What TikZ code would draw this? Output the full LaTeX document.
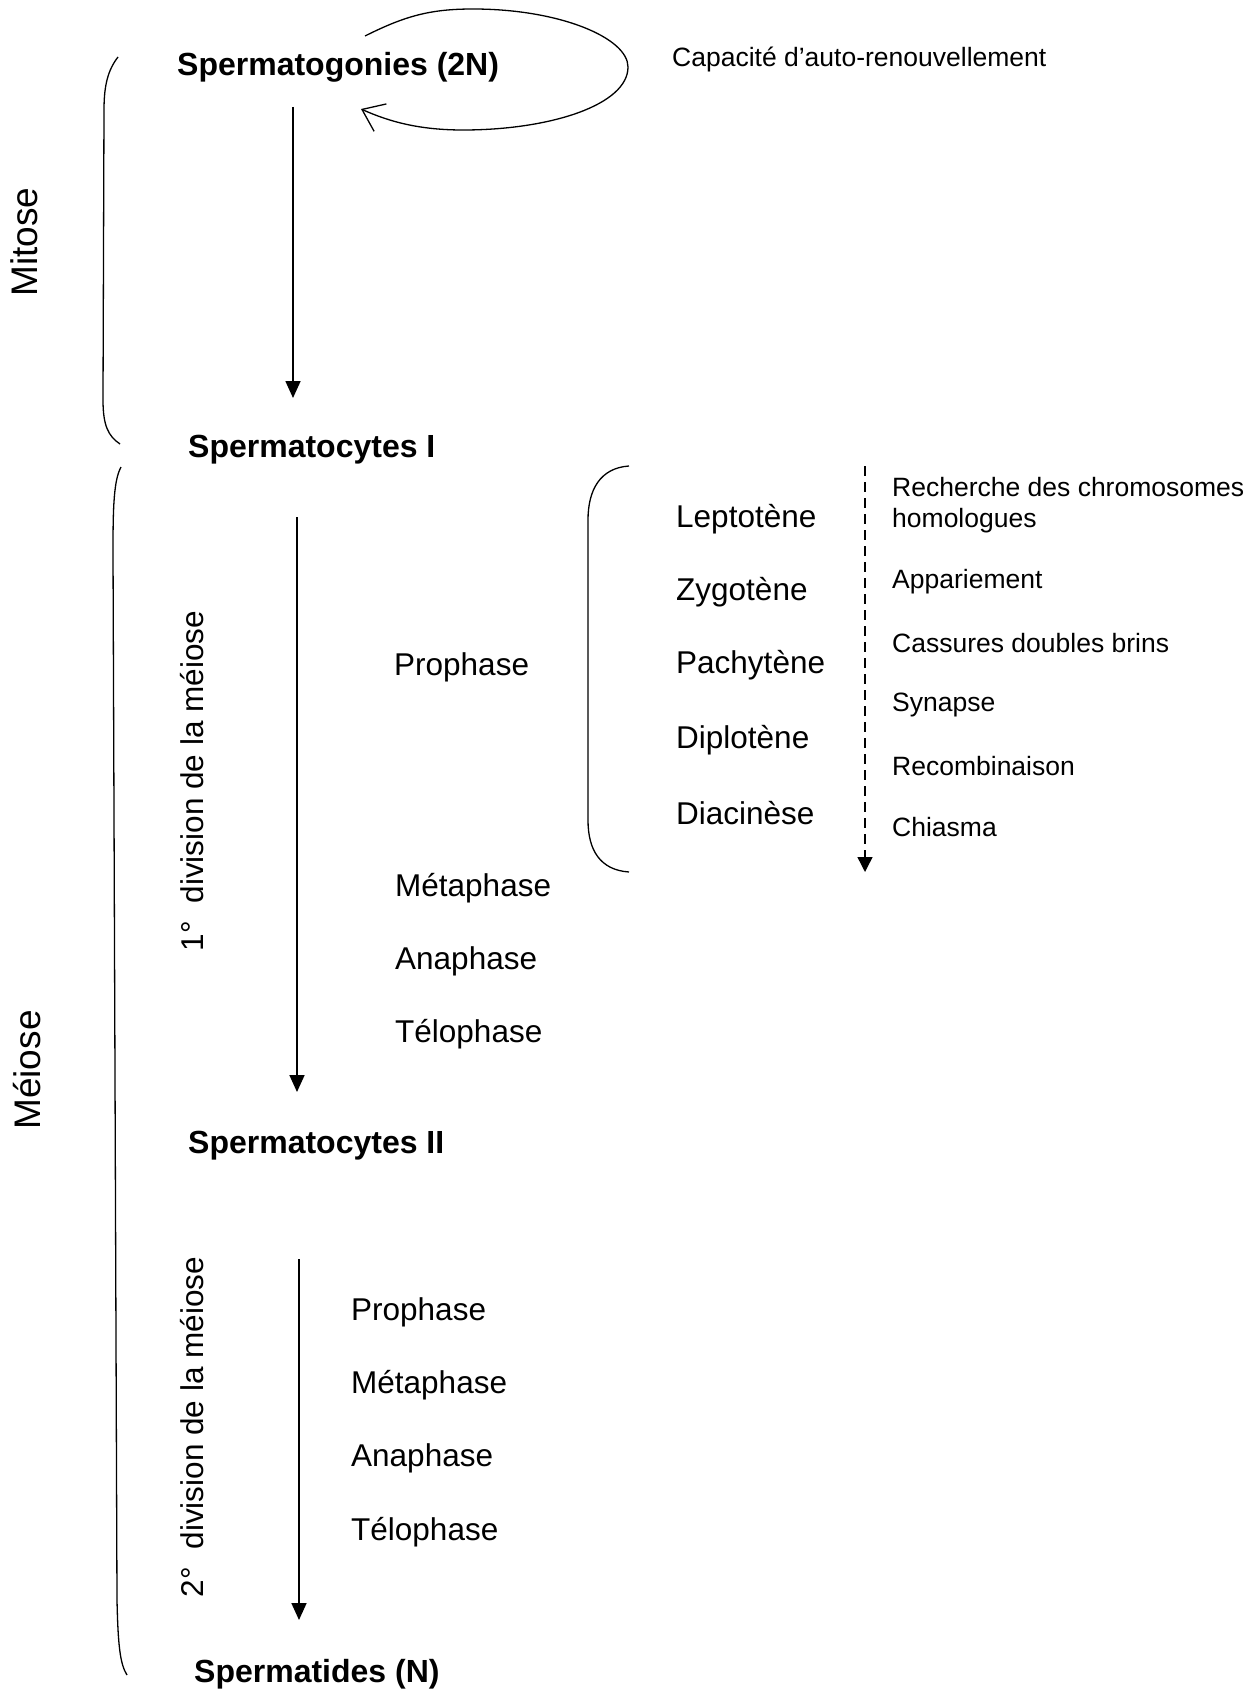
\documentclass[tikz,border=0pt]{standalone}
\usepackage{fontspec}
\setmainfont{Liberation Sans}
\usetikzlibrary{arrows.meta}
\begin{document}
\begin{tikzpicture}[x=1pt,y=-1pt,
  every node/.append style={yshift=-2pt},
  bold/.style={anchor=west,inner sep=0pt,font=\fontsize{32}{38}\selectfont\bfseries},
  stage/.style={anchor=west,inner sep=0pt,font=\fontsize{31.5}{38}\selectfont},
  small/.style={anchor=west,inner sep=0pt,font=\fontsize{26.5}{31}\selectfont,align=left},
  side/.style={inner sep=0pt,rotate=90,font=\fontsize{37}{42}\selectfont},
  divlab/.style={inner sep=0pt,rotate=90,font=\fontsize{31.5}{38}\selectfont},
  arr/.style={line width=1.7pt,-{Triangle[length=17pt,width=15pt]}},
  darr/.style={line width=1.4pt,dash pattern=on 10pt off 6pt,-{Triangle[length=15pt,width=15pt]}},
  brk/.style={line width=1.3pt}]
\useasboundingbox[fill=white] (0,0) rectangle (1260,1691);

% main labels
\node[bold] (sg) at (177,65) {Spermatogonies (2N)};
\node[small] (cap) at (672,57) {Capacité d’auto-renouvellement};
\node[bold] (sc1) at (188,448) {Spermatocytes I};
\node[bold] (sc2) at (188,1144) {Spermatocytes II};
\node[bold] (sd) at (194,1672) {Spermatides (N)};

\node[side] (mitose) at (24,240) {Mitose};
\node[side] (meiose) at (27,1068) {Méiose};
\node[divlab] (div1) at (192,779) {1°\ \ division de la méiose};
\node[divlab] (div2) at (192,1425) {2°\ \ division de la méiose};

% first division
\node[stage] (pro1) at (394,665) {Prophase};
\node[stage] (met1) at (395,886) {Métaphase};
\node[stage] (ana1) at (395,959) {Anaphase};
\node[stage] (tel1) at (395,1032) {Télophase};

\node[stage] (lep) at (676,517) {Leptotène};
\node[stage] (zyg) at (676,590) {Zygotène};
\node[stage] (pac) at (676,663) {Pachytène};
\node[stage] (dip) at (676,738) {Diplotène};
\node[stage] (dia) at (676,811) {Diacinèse};

\node[small] (rech) at (892,503) {Recherche des chromosomes\\homologues};
\node[small] (app) at (892,580) {Appariement};
\node[small] (cas) at (892,641) {Cassures doubles brins};
\node[small] (syn) at (892,703) {Synapse};
\node[small] (rec) at (892,764) {Recombinaison};
\node[small] (chi) at (892,825) {Chiasma};

% second division
\node[stage] (pro2) at (351,1310) {Prophase};
\node[stage] (met2) at (351,1383) {Métaphase};
\node[stage] (ana2) at (351,1456) {Anaphase};
\node[stage] (tel2) at (351,1530) {Télophase};

% arrow end points
\coordinate (a1s) at (293,105);
\coordinate (a1e) at (293,396);
\coordinate (a2s) at (297,515);
\coordinate (a2e) at (297,1090);
\coordinate (a3s) at (299,1257);
\coordinate (a3e) at (299,1618);
\coordinate (dps) at (865,464);
\coordinate (dpe) at (865,870);

\draw[arr] (a1s) -- (a1e);
\draw[arr] (a2s) -- (a2e);
\draw[arr] (a3s) -- (a3e);
\draw[darr] (dps) -- (dpe);

% self-renewal loop
\coordinate (ls) at (365,34);
\coordinate (le) at (361,107);
\draw[line width=1.3pt,-{Straight Barb[length=20pt,width=30pt,line width=1.3pt]}]
  (ls) .. controls (405,16) and (430,9) .. (473,9)
  .. controls (560,9) and (628,38) .. (628,67)
  .. controls (628,105) and (550,130) .. (463,130)
  .. controls (420,130) and (390,122) .. (le);

% brackets
\draw[brk] (118,57) .. controls (108,70) and (104,85) .. (104,110)
  -- (103,400) .. controls (103,425) and (108,436) .. (120,444);
\draw[brk] (121,467) .. controls (114,480) and (113,505) .. (113,550)
  -- (117,1600) .. controls (118,1645) and (120,1664) .. (127,1675);
\draw[brk] (629,466) .. controls (600,468) and (588,490) .. (588,520)
  -- (588,820) .. controls (588,850) and (600,870) .. (629,872);
\end{tikzpicture}
\end{document}
